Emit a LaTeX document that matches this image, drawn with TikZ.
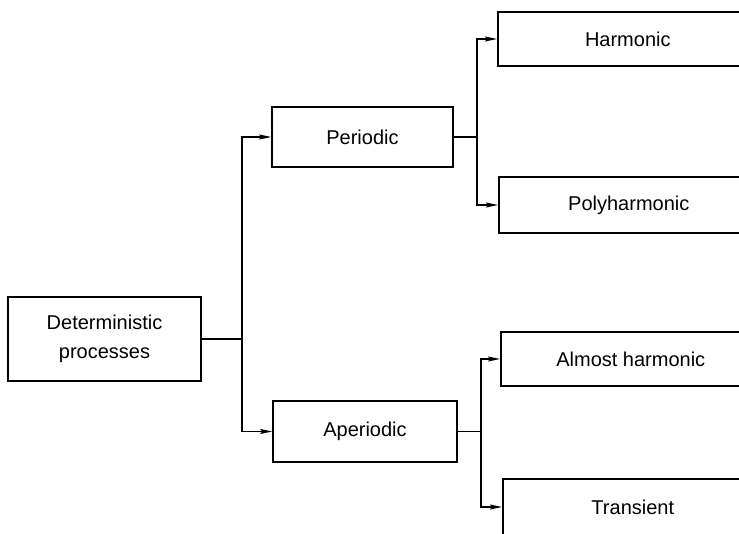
\documentclass[tikz,border=0pt]{standalone}
\usepackage{fontspec}
\setmainfont{Liberation Sans}
\usetikzlibrary{arrows.meta}
\begin{document}
\begin{tikzpicture}[x=1pt,y=1pt]
\tikzstyle{every node}+=[inner sep=0pt, font=\fontsize{20}{29}\selectfont]
\tikzstyle{box}=[draw=black, line width=1.6pt, rectangle, align=center]
\tikzstyle{link}=[black, line width=1.4pt, -{Stealth[length=12pt,width=5pt,inset=2pt]}]
\useasboundingbox (0,0) rectangle (739,-534);
\clip (0,0) rectangle (739,-534);
\node [box, minimum width=193, minimum height=84] (det) at (104.5,-339) {Deterministic\\processes};
\node [box, minimum width=181, minimum height=60] (per) at (362.5,-137) {Periodic};
\node [box, minimum width=184, minimum height=61] (aper) at (365,-431.5) {Aperiodic};
\node [box, anchor=west, minimum width=260, minimum height=54] (harm) at (497,-39) {Harmonic};
\node [box, anchor=west, minimum width=260, minimum height=56] (poly) at (498,-205) {Polyharmonic};
\node [box, anchor=west, minimum width=260, minimum height=54] (almost) at (500,-359) {Almost harmonic};
\node [box, anchor=west, minimum width=260, minimum height=56] (trans) at (502,-507) {Transient};
\draw [link] (det.east) -- ++(40,0) |- (per.west);
\draw [link] (det.east) -- ++(40,0) |- (aper.west);
\draw [link] (per.east) -- ++(23,0) |- (harm.west);
\draw [link] (per.east) -- ++(23,0) |- (poly.west);
\draw [link] (aper.east) -- ++(23,0) |- (almost.west);
\draw [link] (aper.east) -- ++(23,0) |- (trans.west);
\end{tikzpicture}
\end{document}
